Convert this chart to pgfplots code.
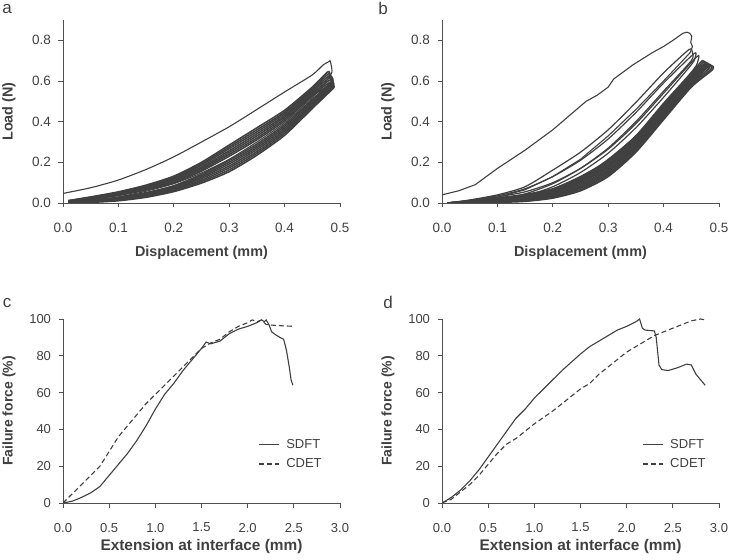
\documentclass[border=0pt]{standalone}
\usepackage{pgfplots}
\pgfplotsset{compat=1.18}
\usepackage{fontspec}
\setmainfont{Liberation Sans}
\definecolor{ink}{HTML}{404040}
\definecolor{axisc}{HTML}{505050}

\pgfplotsset{
  panel/.style={
    scale only axis, width=277pt,
    axis lines=left, axis line style={-, draw=axisc, line width=0.8pt},
    tick align=outside, major tick length=4.5pt,
    tick style={draw=axisc, line width=0.8pt},
    x tick label style={font=\fontsize{13.5}{15}\selectfont, text=ink, yshift=-12pt},
    y tick label style={font=\fontsize{13.5}{15}\selectfont, text=ink, xshift=-4pt},
    /pgf/number format/assume math mode=true,
    ylabel style={at={(axis description cs:-0.195,0.5)}, anchor=center},
  },
  loop/.style={ink, line width=1.55pt, no markers, smooth, tension=0.4},
  curve/.style={ink, line width=1.1pt, no markers},
  ffpanel/.style={
    xmin=0, xmax=3, ymin=0, ymax=100,
    xtick={0,0.5,1,1.5,2,2.5,3}, xticklabels={0.0,0.5,1.0,1.5,2.0,2.5,3.0},
    ytick={0,20,40,60,80,100},
    x tick label style={font=\fontsize{13}{15}\selectfont},
    y tick label style={font=\fontsize{13}{15}\selectfont},
    xlabel={Extension at interface (mm)}, ylabel={Failure force (\%)},
    label style={font=\bfseries\fontsize{14}{16}\selectfont, text=ink},
    xlabel style={at={(axis description cs:0.5,-0.238)}, anchor=center, font=\bfseries\fontsize{15.4}{18}\selectfont},
    legend cell align=left,
    legend image code/.code={\draw[##1] (0pt,0pt) -- (20pt,0pt);},
  },
  legsty/.style={draw=none, fill=none, anchor=north west,
    font=\fontsize{13}{15}\selectfont, text=ink, row sep=5pt,
    /tikz/every odd column/.append style={column sep=5pt}},
}

\begin{document}
\begin{tikzpicture}
\useasboundingbox (0,0) rectangle (729pt,560pt);

% ---- a ----
\begin{axis}[panel, at={(63pt,357pt)}, anchor=south west, height=183pt,
  xmin=0, xmax=0.5, ymin=0, ymax=0.9,
  xtick={0,0.1,0.2,0.3,0.4,0.5}, xticklabels={0.0,0.1,0.2,0.3,0.4,0.5},
  ytick={0,0.2,0.4,0.6,0.8}, yticklabels={0.0,0.2,0.4,0.6,0.8},
  xlabel={Displacement (mm)}, ylabel={Load (N)},
  label style={font=\bfseries\fontsize{14.4}{16}\selectfont, text=ink},
  xlabel style={at={(axis description cs:0.5,-0.27)}, anchor=center},
]
\addplot[ink, line width=1.1pt, no markers, smooth, tension=0.4] coordinates {(0,0.047)(0.05,0.075)(0.1,0.113)(0.15,0.165)(0.2,0.227)(0.25,0.3)(0.3,0.375)(0.35,0.46)(0.4,0.546)(0.45,0.63)(0.47,0.68)(0.48,0.695)(0.482,0.70)(0.484,0.68)(0.485,0.64)(0.47,0.58)(0.45,0.52)(0.4,0.395)(0.35,0.3)(0.3,0.215)(0.25,0.148)(0.2,0.095)(0.15,0.058)(0.1,0.03)(0.05,0.013)(0.01,0.006)};
\addplot[loop] coordinates {(0.01,0.012)(0.05,0.030)(0.1,0.055)(0.15,0.088)(0.2,0.132)(0.25,0.200)(0.3,0.285)(0.35,0.370)(0.4,0.456)(0.45,0.570)(0.478,0.645)(0.482,0.63)(0.486,0.60)(0.45,0.510)(0.4,0.386)(0.35,0.290)(0.3,0.210)(0.25,0.141)(0.2,0.085)(0.15,0.051)(0.1,0.028)(0.05,0.014)(0.01,0.005)};
\addplot[loop] coordinates {(0.01,0.011)(0.05,0.028)(0.1,0.052)(0.15,0.084)(0.2,0.127)(0.25,0.193)(0.3,0.276)(0.35,0.360)(0.4,0.447)(0.45,0.563)(0.479,0.635)(0.483,0.62)(0.486,0.594)(0.45,0.503)(0.4,0.377)(0.35,0.281)(0.3,0.201)(0.25,0.134)(0.2,0.080)(0.15,0.047)(0.1,0.025)(0.05,0.012)(0.01,0.004)};
\addplot[loop] coordinates {(0.01,0.010)(0.05,0.026)(0.1,0.049)(0.15,0.080)(0.2,0.122)(0.25,0.186)(0.3,0.267)(0.35,0.350)(0.4,0.439)(0.45,0.555)(0.480,0.625)(0.484,0.61)(0.486,0.588)(0.45,0.495)(0.4,0.368)(0.35,0.272)(0.3,0.192)(0.25,0.127)(0.2,0.075)(0.15,0.043)(0.1,0.022)(0.05,0.010)(0.01,0.003)};
\addplot[loop] coordinates {(0.01,0.009)(0.05,0.024)(0.1,0.046)(0.15,0.076)(0.2,0.117)(0.25,0.178)(0.3,0.257)(0.35,0.340)(0.4,0.430)(0.45,0.548)(0.481,0.615)(0.485,0.60)(0.487,0.582)(0.45,0.488)(0.4,0.359)(0.35,0.263)(0.3,0.182)(0.25,0.120)(0.2,0.070)(0.15,0.039)(0.1,0.019)(0.05,0.008)(0.01,0.003)};
\addplot[loop] coordinates {(0.01,0.009)(0.05,0.022)(0.1,0.043)(0.15,0.072)(0.2,0.111)(0.25,0.171)(0.3,0.248)(0.35,0.330)(0.4,0.422)(0.45,0.540)(0.482,0.605)(0.486,0.59)(0.487,0.576)(0.45,0.480)(0.4,0.351)(0.35,0.253)(0.3,0.173)(0.25,0.112)(0.2,0.066)(0.15,0.036)(0.1,0.017)(0.05,0.007)(0.01,0.002)};
\addplot[loop] coordinates {(0.01,0.008)(0.05,0.020)(0.1,0.040)(0.15,0.068)(0.2,0.105)(0.25,0.164)(0.3,0.239)(0.35,0.320)(0.4,0.413)(0.45,0.533)(0.483,0.595)(0.487,0.58)(0.487,0.570)(0.45,0.473)(0.4,0.342)(0.35,0.244)(0.3,0.163)(0.25,0.105)(0.2,0.061)(0.15,0.032)(0.1,0.014)(0.05,0.005)(0.01,0.001)};
\addplot[loop] coordinates {(0.01,0.007)(0.05,0.018)(0.1,0.037)(0.15,0.064)(0.2,0.099)(0.25,0.157)(0.3,0.230)(0.35,0.311)(0.4,0.404)(0.45,0.526)(0.484,0.585)(0.487,0.575)(0.488,0.565)(0.45,0.465)(0.4,0.333)(0.35,0.235)(0.3,0.154)(0.25,0.098)(0.2,0.056)(0.15,0.028)(0.1,0.011)(0.05,0.003)(0.01,0.0)};
\end{axis}

% ---- b ----
\begin{axis}[panel, at={(442pt,357pt)}, anchor=south west, height=183pt,
  xmin=0, xmax=0.5, ymin=0, ymax=0.9,
  xtick={0,0.1,0.2,0.3,0.4,0.5}, xticklabels={0.0,0.1,0.2,0.3,0.4,0.5},
  ytick={0,0.2,0.4,0.6,0.8}, yticklabels={0.0,0.2,0.4,0.6,0.8},
  xlabel={Displacement (mm)}, ylabel={Load (N)},
  label style={font=\bfseries\fontsize{14.4}{16}\selectfont, text=ink},
  xlabel style={at={(axis description cs:0.5,-0.27)}, anchor=center},
]
\addplot[ink, line width=1.1pt, no markers] coordinates {(0.0,0.04)(0.03,0.06)(0.06,0.09)(0.1,0.17)(0.15,0.26)(0.2,0.36)(0.23,0.43)(0.26,0.5)(0.28,0.53)(0.3,0.57)(0.31,0.61)(0.345,0.68)(0.38,0.74)(0.4,0.77)(0.417,0.8)(0.435,0.835)(0.442,0.84)(0.447,0.835)(0.451,0.82)(0.449,0.79)(0.452,0.77)(0.448,0.74)(0.4,0.6)(0.35,0.46)(0.3,0.33)(0.25,0.215)(0.2,0.13)(0.15,0.065)(0.1,0.028)(0.05,0.008)(0.02,0.0)};
\addplot[loop, line width=1.2pt] coordinates {(0.01,0.0)(0.05,0.015)(0.1,0.04)(0.15,0.08)(0.2,0.162)(0.25,0.25)(0.3,0.36)(0.35,0.495)(0.4,0.64)(0.446,0.755)(0.452,0.74)(0.45,0.70)(0.4,0.55)(0.35,0.40)(0.3,0.27)(0.25,0.17)(0.2,0.095)(0.15,0.045)(0.1,0.02)(0.05,0.005)(0.02,0.0)};
\addplot[loop, line width=1.2pt] coordinates {(0.01,0.0)(0.05,0.013)(0.1,0.035)(0.15,0.07)(0.2,0.13)(0.25,0.21)(0.3,0.315)(0.35,0.445)(0.4,0.59)(0.455,0.735)(0.457,0.715)(0.45,0.68)(0.4,0.52)(0.35,0.37)(0.3,0.245)(0.25,0.15)(0.2,0.08)(0.15,0.035)(0.1,0.012)(0.05,0.003)(0.02,0.0)};
\addplot[loop, line width=1.2pt] coordinates {(0.01,0.0)(0.05,0.012)(0.1,0.03)(0.15,0.055)(0.2,0.1)(0.25,0.17)(0.3,0.265)(0.35,0.39)(0.4,0.54)(0.46,0.72)(0.462,0.70)(0.455,0.66)(0.4,0.48)(0.35,0.33)(0.3,0.215)(0.25,0.12)(0.2,0.06)(0.15,0.025)(0.1,0.008)(0.05,0.001)(0.02,0.0)};
\addplot[loop] coordinates {(0.01,0.0)(0.05,0.010)(0.1,0.025)(0.15,0.042)(0.2,0.070)(0.25,0.130)(0.3,0.210)(0.35,0.330)(0.4,0.490)(0.45,0.640)(0.470,0.700)(0.474,0.68)(0.45,0.602)(0.4,0.446)(0.35,0.286)(0.3,0.166)(0.25,0.092)(0.2,0.045)(0.15,0.023)(0.1,0.013)(0.05,0.005)(0.015,0.0)};
\addplot[loop] coordinates {(0.01,0.0)(0.05,0.009)(0.1,0.023)(0.15,0.039)(0.2,0.066)(0.25,0.124)(0.3,0.203)(0.35,0.323)(0.4,0.483)(0.45,0.634)(0.473,0.695)(0.477,0.675)(0.45,0.595)(0.4,0.439)(0.35,0.279)(0.3,0.159)(0.25,0.085)(0.2,0.040)(0.15,0.020)(0.1,0.011)(0.05,0.004)(0.015,0.0)};
\addplot[loop] coordinates {(0.01,0.0)(0.05,0.008)(0.1,0.021)(0.15,0.036)(0.2,0.062)(0.25,0.117)(0.3,0.196)(0.35,0.316)(0.4,0.476)(0.45,0.627)(0.476,0.690)(0.480,0.67)(0.45,0.589)(0.4,0.432)(0.35,0.272)(0.3,0.152)(0.25,0.079)(0.2,0.036)(0.15,0.017)(0.1,0.009)(0.05,0.003)(0.015,0.0)};
\addplot[loop] coordinates {(0.01,0.0)(0.05,0.007)(0.1,0.019)(0.15,0.033)(0.2,0.058)(0.25,0.111)(0.3,0.188)(0.35,0.308)(0.4,0.468)(0.45,0.621)(0.479,0.685)(0.483,0.665)(0.45,0.583)(0.4,0.424)(0.35,0.264)(0.3,0.144)(0.25,0.073)(0.2,0.032)(0.15,0.014)(0.1,0.007)(0.05,0.002)(0.015,0.0)};
\addplot[loop] coordinates {(0.01,0.0)(0.05,0.006)(0.1,0.017)(0.15,0.030)(0.2,0.054)(0.25,0.105)(0.3,0.181)(0.35,0.301)(0.4,0.461)(0.45,0.615)(0.482,0.680)(0.486,0.66)(0.45,0.576)(0.4,0.417)(0.35,0.257)(0.3,0.137)(0.25,0.066)(0.2,0.028)(0.15,0.011)(0.1,0.005)(0.05,0.001)(0.015,0.0)};
\addplot[loop] coordinates {(0.01,0.0)(0.05,0.005)(0.1,0.015)(0.15,0.027)(0.2,0.050)(0.25,0.099)(0.3,0.174)(0.35,0.294)(0.4,0.454)(0.45,0.608)(0.485,0.675)(0.488,0.655)(0.45,0.570)(0.4,0.410)(0.35,0.250)(0.3,0.130)(0.25,0.060)(0.2,0.024)(0.15,0.008)(0.1,0.003)(0.05,0.0)(0.015,0.0)};
\end{axis}

% ---- c ----
\begin{axis}[panel, ffpanel, at={(63pt,57pt)}, anchor=south west, height=184pt,
  legend style={legsty, at={(0.693,0.37)}},
]
\addplot[curve] coordinates {(0,0)(0.1,1)(0.2,3)(0.3,5.5)(0.4,9)(0.5,15)(0.6,21)(0.7,27)(0.8,34)(0.9,42)(1.0,51)(1.1,59)(1.2,65)(1.3,72)(1.4,78)(1.5,84)(1.55,87.5)(1.6,86.5)(1.7,88)(1.8,92)(1.9,94.5)(2.0,96)(2.1,98)(2.15,99.5)(2.18,98.5)(2.2,99.5)(2.23,97)(2.26,93)(2.3,91.5)(2.35,90)(2.39,89)(2.42,83)(2.45,74)(2.47,67)(2.49,64)};
\addlegendentry{SDFT}
\addplot[curve, dash pattern=on 5pt off 3pt] coordinates {(0,0)(0.1,5)(0.2,10)(0.3,15)(0.4,20)(0.5,28)(0.6,36)(0.7,42)(0.8,48)(0.9,54)(1.0,59)(1.1,64)(1.2,69)(1.3,74)(1.4,79)(1.5,84)(1.6,87)(1.7,89)(1.8,93)(1.9,96)(2.0,98)(2.05,99.5)(2.1,98.5)(2.15,99.5)(2.2,97)(2.3,96.5)(2.5,96)};
\addlegendentry{CDET}
\end{axis}

% ---- d ----
\begin{axis}[panel, ffpanel, at={(442pt,57pt)}, anchor=south west, height=184pt,
  legend style={legsty, at={(0.711,0.37)}},
]
\addplot[curve] coordinates {(0,0)(0.1,3)(0.2,7)(0.3,12)(0.4,18)(0.5,25)(0.6,32)(0.7,39)(0.8,46)(0.9,51)(1.0,57)(1.1,62)(1.2,67)(1.3,72)(1.4,76.5)(1.5,81)(1.6,85)(1.7,88)(1.8,91)(1.9,94)(2.0,96)(2.1,98.5)(2.14,100)(2.17,95)(2.2,94)(2.3,93.5)(2.32,90)(2.35,75)(2.38,72.5)(2.45,72)(2.55,73.5)(2.65,75.5)(2.7,75)(2.75,70)(2.8,67)(2.85,64)};
\addlegendentry{SDFT}
\addplot[curve, dash pattern=on 5pt off 3pt] coordinates {(0,0)(0.1,2)(0.2,6)(0.3,10)(0.4,15)(0.5,21)(0.6,27)(0.7,32)(0.8,35)(0.9,39)(1.0,43)(1.1,46.5)(1.2,50)(1.3,54)(1.4,58)(1.5,62)(1.6,65)(1.7,70)(1.8,74)(1.9,78)(2.0,82)(2.1,85)(2.2,88)(2.3,91)(2.4,93)(2.5,95)(2.6,97)(2.7,99)(2.8,100)(2.85,99.5)};
\addlegendentry{CDET}
\end{axis}

\node[font=\fontsize{17}{18}\selectfont, text=ink] at (7pt,551pt) {a};
\node[font=\fontsize{17}{18}\selectfont, text=ink] at (383pt,552pt) {b};
\node[font=\fontsize{17}{18}\selectfont, text=ink] at (7pt,257pt) {c};
\node[font=\fontsize{17}{18}\selectfont, text=ink] at (388pt,258pt) {d};
\end{tikzpicture}
\end{document}
